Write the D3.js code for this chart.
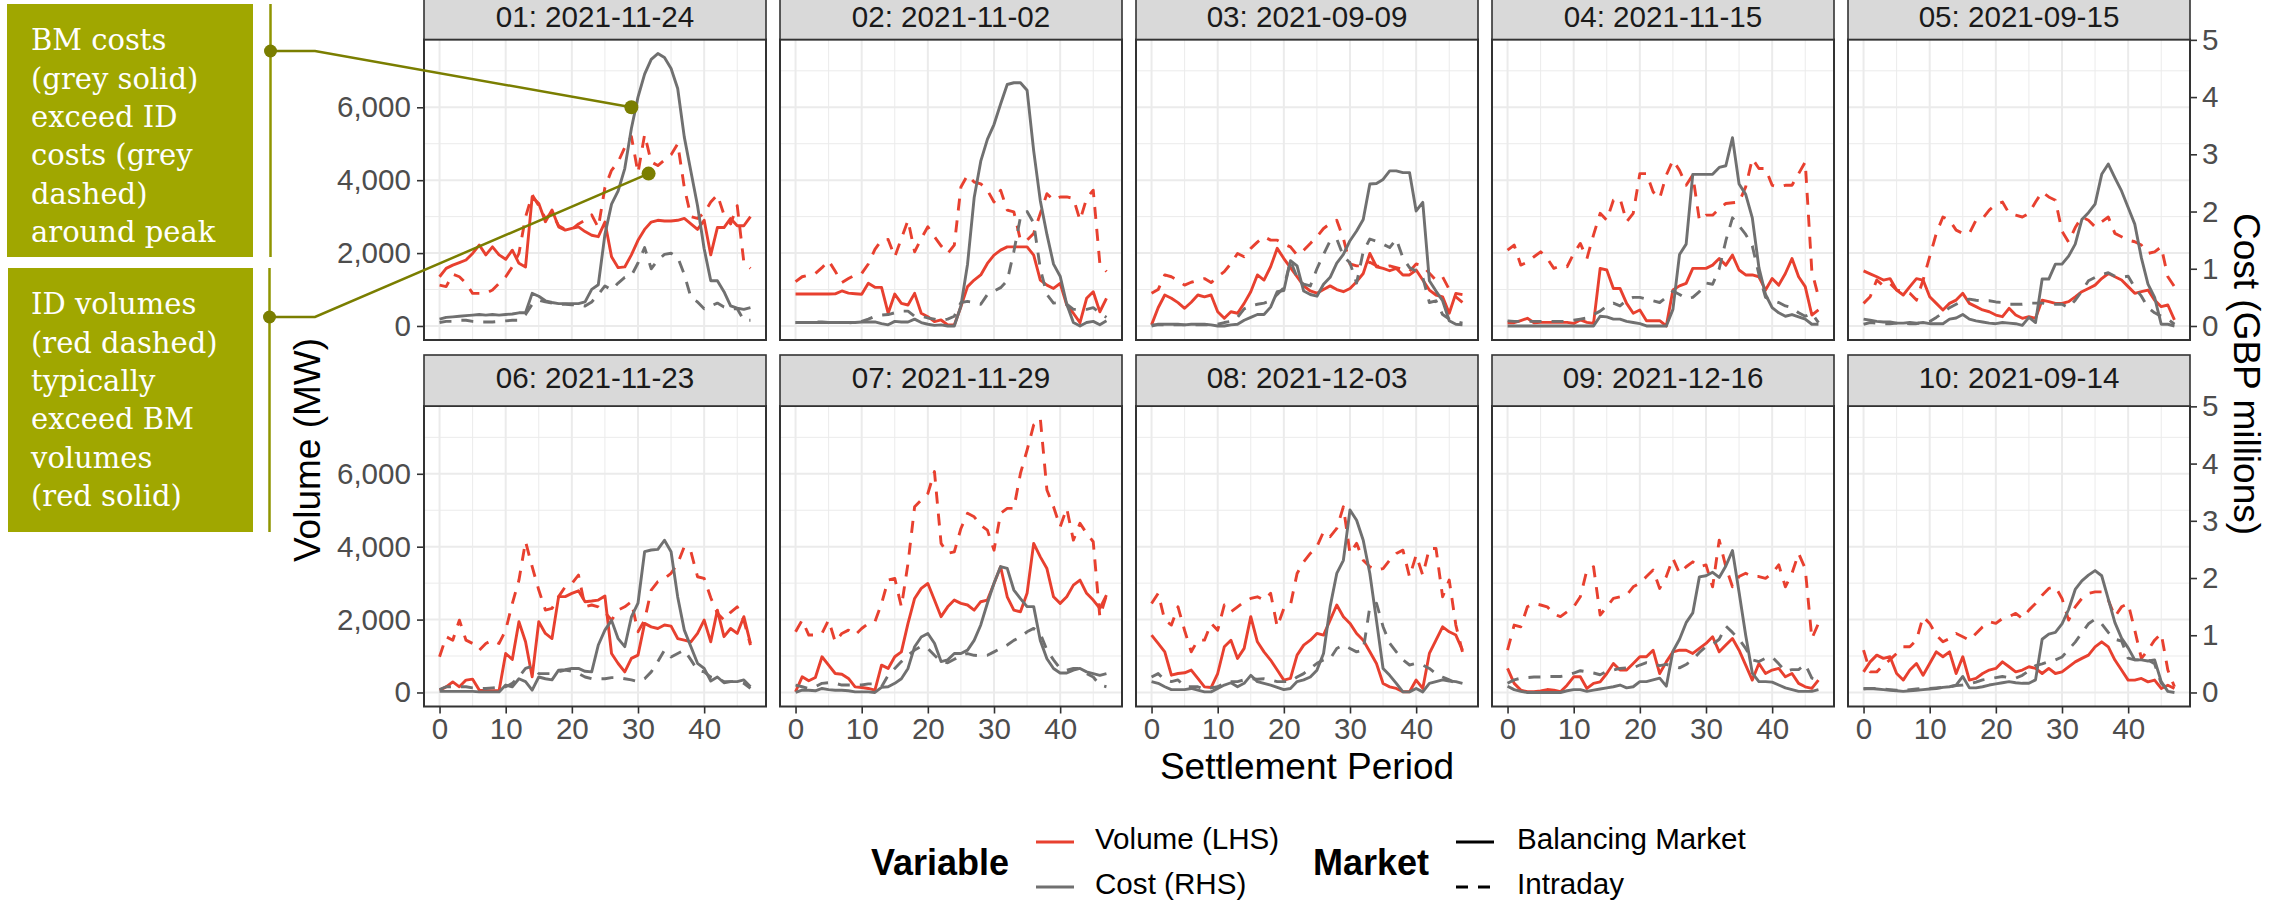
<!DOCTYPE html>
<html>
<head>
<meta charset="utf-8">
<script src="https://cdn.jsdelivr.net/npm/d3@7"></script>
<style>
  body { margin: 0; background: #fff; }
</style>
</head>
<body>
<div id="chart"></div>
<script>
// settlement periods shown on the x axis
const periods = [0,1,2,3,4,5,6,7,8,9,10,11,12,13,14,15,16,17,18,19,20,21,22,23,
                 24,25,26,27,28,29,30,31,32,33,34,35,36,37,38,39,40,41,42,43,44,45,46,47];

const panelLabels = ["01: 2021-11-24", "02: 2021-11-02", "03: 2021-09-09", "04: 2021-11-15", "05: 2021-09-15",
                     "06: 2021-11-23", "07: 2021-11-29", "08: 2021-12-03", "09: 2021-12-16", "10: 2021-09-14"];

// Balancing Market volume (MW)
const volBM = [
  [1350,1580,1670,1740,1810,1990,2220,1950,2170,1950,1830,2080,1720,1620,3540,3360,2860,3180,2720,2630,2680,2720,2590,2490,2450,2850,1900,1600,1620,1950,2350,2650,2850,2900,2880,2880,2900,2950,2800,2650,2900,1950,2700,2700,2950,2750,2750,3000],
  [876,876,876,876,876,876,880,960,900,885,870,1170,1060,1060,350,876,620,575,895,350,255,120,165,30,30,530,1080,1260,1400,1715,1945,2080,2170,2170,2170,2170,1945,1260,1120,1030,1170,575,350,90,760,940,390,760],
  [30,500,850,760,640,485,650,850,800,850,390,210,390,350,620,940,1400,1260,1625,2130,1850,1600,1350,1100,960,900,1000,1100,1000,940,1030,1215,1440,1990,1625,1580,1515,1580,1400,1400,1535,1260,985,850,800,350,895,860],
  [90,90,150,210,90,100,100,100,100,100,70,165,100,70,1580,1535,1030,1030,620,350,440,145,145,145,0,985,1100,1170,1580,1580,1580,1670,1850,1670,1945,1535,1400,1400,1350,985,1300,1120,1440,1850,1350,1080,300,440],
  [1510,1430,1350,1260,1300,985,850,1080,1300,1260,800,620,440,620,710,895,620,530,440,390,300,255,485,300,210,255,210,710,670,620,620,670,800,940,1030,1120,1300,1440,1350,1260,1080,895,940,985,710,530,575,165],
  [65,155,290,155,340,365,65,50,50,50,1070,905,1940,1390,430,1940,1620,1480,2630,2630,2720,2790,2490,2510,2535,2645,1070,795,565,935,1025,1895,1800,1755,1850,1820,1480,1435,1390,1620,1985,1390,2260,1530,1755,1620,2080,1345],
  [20,430,320,410,980,750,520,500,385,155,135,110,65,750,660,980,1115,1895,2580,2855,2990,2535,2080,2350,2535,2445,2400,2260,2490,2535,2990,3450,2625,2260,2215,2720,4090,3720,3400,2625,2445,2625,2945,3085,2720,2535,2305,2670],
  [1575,1345,1115,475,520,540,615,385,155,135,520,1255,1435,935,1210,2080,1390,1115,890,615,340,385,1025,1300,1435,1620,1575,1985,2400,2080,1895,1620,1435,1115,795,245,155,110,20,20,340,110,1070,1435,1800,1665,1575,1160],
  [660,250,65,20,20,45,80,65,20,200,430,430,110,250,290,520,795,615,615,795,980,980,1160,520,840,1115,1160,1160,1070,1210,1345,1530,1115,1300,1480,1160,750,340,795,520,615,660,430,520,250,155,110,340],
  [565,840,1025,935,980,520,340,615,795,475,795,1115,980,1115,520,980,340,385,520,615,660,840,705,565,615,705,660,520,660,520,565,705,840,935,1025,1250,1390,1250,890,615,340,340,385,290,340,110,200,110]
];

// Intraday volume (MW)
const volID = [
  [1120,1080,1420,1350,1170,895,895,895,985,1170,1350,1625,1990,2990,3600,3300,2950,3100,2750,2650,2650,2800,2900,3050,2700,3800,4270,4500,4900,5200,4200,5250,4500,4400,4550,4700,5000,3800,3000,2950,3100,3400,3600,3050,2800,3300,1750,1580],
  [1215,1350,1400,1440,1600,1790,1500,1190,1300,1400,1440,1700,2100,2355,2375,1900,2400,2900,2035,2400,2720,2450,2200,1990,2220,3815,4140,3950,3900,3725,3400,3725,3180,3130,2355,2355,2540,3090,3630,3450,3540,3540,3500,2900,3500,3725,1715,1490],
  [895,1000,1400,1350,1250,1120,1200,1250,1300,1190,1350,1490,1715,1990,1900,2130,2300,2450,2355,2355,2250,2170,1945,2080,2265,2450,2675,2810,2900,2400,1700,1650,1650,1750,1650,1600,1650,1600,1550,1500,1700,1650,1450,1250,1350,1000,800,650],
  [2080,2220,1670,1750,1900,2035,1850,1580,1650,1625,1990,2265,1850,2500,3090,2900,3450,3500,2860,3090,4180,4180,3680,3500,4140,4550,4270,3860,4140,2900,3040,3040,3220,3360,3380,3400,3815,4590,4320,4320,3860,3815,3860,3860,4180,4500,1500,800],
  [620,800,1260,1100,1170,985,950,895,710,1260,1900,2540,2990,2900,2630,2540,2540,2900,2950,3180,3340,3400,3090,3040,2990,3090,3400,3680,3540,3450,2600,2300,2700,2990,2900,2720,2860,2990,2540,2450,2355,2310,2220,1990,2035,2170,1350,1080],
  [980,1530,1435,1985,1435,1345,1160,1345,1435,1345,1710,2440,3080,4140,3450,2810,2260,2305,2630,2900,2990,3220,2350,2400,2350,2200,1985,2260,2350,2490,1665,1985,2810,3040,3130,3270,3540,4000,3860,3175,3130,2600,2170,1985,2200,2350,1985,1300],
  [1665,1985,1575,1575,1620,1985,1390,1620,1710,1575,1755,1895,1940,2440,3085,3130,2350,3540,5095,5280,5460,6060,4090,3815,3860,4500,4915,4820,4590,4455,3905,4915,5050,5050,6010,6650,7340,7520,5555,5095,4545,5050,4180,4640,4365,4135,2080,2670],
  [2440,2720,1985,1850,2350,1700,1115,1435,1435,1895,1710,2400,2215,2350,2490,2580,2625,2535,2720,1800,2305,2400,3265,3585,3815,4000,4410,4275,4500,5095,3815,4090,3630,3450,3360,3400,3630,3815,3905,3175,3770,3220,3950,3950,2625,3085,1850,1115],
  [1160,1850,1800,2350,2440,2400,2350,2150,2080,2215,2350,2625,3360,3450,2125,2350,2580,2625,2670,2900,3000,3180,3360,2855,3180,3680,3270,3450,3585,3450,3500,2900,4180,3450,2900,3180,3270,3180,3180,3130,3270,3500,2900,3270,3815,3400,1480,1895],
  [1160,565,565,750,900,1070,1255,1255,1435,2080,1895,1575,1390,1480,1620,1530,1435,1620,1800,1940,1895,2030,2080,2170,2030,2260,2440,2670,2855,2900,2580,1985,2350,2580,2720,2760,2760,2535,2080,2350,2440,1710,935,1160,1435,1620,615,155]
];

// Balancing Market cost (GBP millions)
const costBM = [
  [0.12,0.15,0.16,0.17,0.18,0.19,0.2,0.19,0.2,0.19,0.2,0.21,0.23,0.23,0.57,0.52,0.44,0.41,0.39,0.39,0.39,0.39,0.42,0.64,0.72,1.6,2.13,2.36,2.75,3.45,4.0,4.4,4.66,4.76,4.69,4.5,4.15,3.3,2.7,2.1,1.35,0.79,0.79,0.6,0.35,0.31,0.29,0.32],
  [0.06,0.06,0.06,0.06,0.06,0.06,0.06,0.06,0.06,0.06,0.07,0.07,0.07,0.04,0.02,0.08,0.07,0.07,0.12,0.06,0.03,0.01,0.02,0.0,0.0,0.35,1.08,2.24,2.88,3.26,3.52,3.88,4.22,4.25,4.25,4.12,3.06,2.19,1.6,1.08,0.87,0.38,0.06,0.0,0.06,0.08,0.02,0.09],
  [0.0,0.03,0.03,0.03,0.03,0.02,0.03,0.03,0.03,0.02,0.0,0.0,0.02,0.03,0.1,0.15,0.2,0.2,0.33,0.6,0.62,1.14,1.05,0.61,0.55,0.52,0.73,0.85,1.1,1.25,1.49,1.66,1.86,2.48,2.49,2.56,2.71,2.71,2.68,2.68,2.01,2.16,0.79,0.61,0.44,0.09,0.03,0.02],
  [0.0,0.0,0.0,0.0,0.0,0.0,0.0,0.0,0.0,0.0,0.0,0.0,0.0,0.0,0.17,0.16,0.12,0.12,0.08,0.06,0.04,0.0,0.0,0.0,0.0,0.29,1.25,1.43,2.65,2.65,2.65,2.65,2.77,2.8,3.29,2.48,2.3,1.89,1.02,0.55,0.32,0.23,0.17,0.2,0.16,0.12,0.03,0.03],
  [0.12,0.1,0.08,0.07,0.07,0.05,0.05,0.06,0.05,0.06,0.04,0.04,0.04,0.12,0.14,0.2,0.12,0.09,0.07,0.05,0.04,0.06,0.05,0.04,0.01,0.15,0.06,0.82,0.82,1.08,1.08,1.22,1.43,1.86,1.98,2.13,2.65,2.83,2.59,2.36,2.07,1.78,1.19,0.73,0.5,0.03,0.03,0.0],
  [0.02,0.02,0.02,0.02,0.02,0.02,0.01,0.01,0.01,0.01,0.13,0.1,0.24,0.19,0.04,0.27,0.24,0.22,0.39,0.4,0.42,0.42,0.37,0.36,0.83,1.09,1.26,0.94,0.8,1.32,1.56,2.46,2.49,2.5,2.66,2.46,1.67,1.09,0.8,0.51,0.42,0.2,0.27,0.17,0.19,0.19,0.22,0.1],
  [0.0,0.04,0.04,0.03,0.07,0.05,0.04,0.04,0.03,0.01,0.01,0.01,0.0,0.09,0.1,0.16,0.24,0.42,0.8,0.97,1.03,0.86,0.54,0.57,0.68,0.68,0.74,0.91,1.18,1.56,1.91,2.2,2.17,1.79,1.64,1.5,1.5,0.91,0.59,0.42,0.34,0.34,0.39,0.42,0.36,0.33,0.3,0.33],
  [0.19,0.16,0.1,0.05,0.05,0.05,0.07,0.04,0.01,0.01,0.07,0.13,0.17,0.1,0.16,0.3,0.19,0.16,0.13,0.09,0.05,0.07,0.19,0.22,0.27,0.39,0.68,1.5,2.08,2.31,3.19,3.01,2.66,2.08,1.26,0.42,0.3,0.16,0.01,0.01,0.07,0.01,0.16,0.19,0.22,0.2,0.19,0.16],
  [0.11,0.05,0.02,0.0,0.0,0.0,0.0,0.0,0.0,0.03,0.05,0.05,0.02,0.04,0.06,0.08,0.1,0.13,0.08,0.1,0.19,0.19,0.22,0.25,0.11,0.72,0.93,1.22,1.39,2.02,2.04,2.1,2.01,2.21,2.48,1.75,1.0,0.34,0.19,0.19,0.18,0.13,0.08,0.05,0.02,0.02,0.02,0.05],
  [0.06,0.07,0.06,0.05,0.04,0.03,0.02,0.03,0.04,0.05,0.06,0.07,0.09,0.1,0.13,0.28,0.08,0.08,0.1,0.13,0.15,0.17,0.19,0.17,0.16,0.16,0.22,0.93,1.02,1.05,1.2,1.45,1.8,1.95,2.05,2.13,2.04,1.63,1.22,0.95,0.78,0.57,0.57,0.55,0.57,0.19,0.02,0.0]
];

// Intraday cost (GBP millions)
const costID = [
  [0.06,0.08,0.08,0.1,0.1,0.08,0.07,0.07,0.07,0.08,0.09,0.1,0.1,0.2,0.38,0.45,0.42,0.4,0.38,0.38,0.37,0.37,0.35,0.42,0.55,0.7,0.63,0.75,0.85,0.88,1.1,1.37,1.0,1.15,1.25,1.27,1.2,0.9,0.5,0.42,0.3,0.35,0.4,0.33,0.3,0.3,0.1,0.1],
  [0.06,0.06,0.06,0.07,0.07,0.06,0.06,0.06,0.06,0.05,0.08,0.12,0.17,0.19,0.2,0.23,0.26,0.26,0.17,0.17,0.14,0.12,0.1,0.12,0.17,0.41,0.43,0.41,0.38,0.55,0.61,0.67,0.79,1.3,1.9,2.0,1.8,1.0,0.55,0.4,0.41,0.38,0.29,0.29,0.29,0.32,0.23,0.15],
  [0.02,0.02,0.02,0.02,0.02,0.02,0.02,0.02,0.02,0.02,0.03,0.06,0.08,0.15,0.3,0.35,0.38,0.4,0.44,0.55,0.67,1.14,0.85,0.73,0.7,1.0,1.25,1.49,1.52,1.22,1.1,0.75,1.3,1.52,1.48,1.43,1.37,1.52,1.19,1.02,0.96,0.85,0.41,0.44,0.2,0.12,0.08,0.05],
  [0.09,0.08,0.08,0.08,0.08,0.08,0.08,0.08,0.08,0.08,0.1,0.12,0.14,0.2,0.26,0.35,0.4,0.35,0.45,0.5,0.5,0.47,0.44,0.41,0.5,0.61,0.55,0.48,0.5,0.6,0.75,0.73,1.0,1.49,1.89,1.75,1.6,1.4,0.9,0.5,0.45,0.41,0.35,0.32,0.23,0.17,0.22,0.06],
  [0.03,0.06,0.05,0.04,0.04,0.05,0.05,0.04,0.04,0.06,0.08,0.15,0.23,0.32,0.38,0.44,0.47,0.45,0.44,0.44,0.42,0.41,0.38,0.38,0.38,0.4,0.4,0.4,0.38,0.38,0.38,0.32,0.45,0.61,0.79,0.85,0.9,0.93,0.87,0.85,0.87,0.67,0.52,0.32,0.23,0.17,0.12,0.03],
  [0.05,0.1,0.1,0.1,0.1,0.08,0.07,0.07,0.08,0.09,0.1,0.16,0.27,0.42,0.46,0.33,0.33,0.33,0.36,0.39,0.37,0.33,0.27,0.24,0.24,0.24,0.26,0.26,0.24,0.22,0.19,0.24,0.36,0.54,0.74,0.62,0.68,0.74,0.57,0.39,0.36,0.27,0.24,0.19,0.19,0.19,0.16,0.07],
  [0.13,0.1,0.07,0.1,0.16,0.17,0.16,0.13,0.13,0.13,0.13,0.15,0.15,0.1,0.3,0.42,0.54,0.65,0.74,0.81,0.77,0.65,0.54,0.52,0.58,0.65,0.68,0.65,0.64,0.65,0.71,0.77,0.83,0.91,0.97,1.06,1.12,1.03,0.74,0.57,0.42,0.39,0.42,0.42,0.33,0.27,0.13,0.1],
  [0.27,0.33,0.22,0.19,0.22,0.1,0.1,0.1,0.05,0.08,0.1,0.16,0.19,0.19,0.22,0.24,0.23,0.24,0.22,0.19,0.19,0.19,0.27,0.33,0.42,0.51,0.57,0.59,0.77,0.83,0.77,0.71,0.74,1.5,1.56,1.15,0.86,0.71,0.57,0.48,0.51,0.48,0.42,0.33,0.27,0.22,0.16,0.13],
  [0.16,0.22,0.25,0.26,0.27,0.27,0.28,0.28,0.28,0.3,0.34,0.38,0.36,0.34,0.31,0.37,0.39,0.42,0.43,0.43,0.48,0.52,0.5,0.47,0.49,0.46,0.43,0.49,0.57,0.7,0.8,0.84,0.93,1.16,1.05,0.93,0.77,0.57,0.54,0.6,0.62,0.5,0.37,0.4,0.4,0.49,0.25,0.22],
  [0.07,0.07,0.07,0.06,0.05,0.04,0.04,0.05,0.06,0.07,0.07,0.08,0.09,0.1,0.12,0.13,0.15,0.18,0.22,0.24,0.26,0.28,0.26,0.25,0.3,0.38,0.47,0.5,0.54,0.57,0.62,0.75,0.88,1.04,1.2,1.28,1.2,1.05,0.93,0.9,0.6,0.57,0.57,0.57,0.5,0.16,0.05,0.02]
];

const xTicks = [0, 10, 20, 30, 40];
const xMinor = [5, 15, 25, 35, 45];
const volTicks = [0, 2000, 4000, 6000];
const volMinor = [1000, 3000, 5000, 7000];
const costTicks = [0, 1, 2, 3, 4, 5];

const variables = ["Volume (LHS)", "Cost (RHS)"];
const markets = ["Balancing Market", "Intraday"];

const notes = [
  { lines: ["BM costs", "(grey solid)", "exceed ID", "costs (grey", "dashed)", "around peak"], target: [29, 6000] },
  { lines: ["ID volumes", "(red dashed)", "typically", "exceed BM", "volumes", "(red solid)"], target: [31.6, 4180] }
];

// ---- layout ----
const W = 2292, H = 900;
const sans = "'Liberation Sans', Arial, Helvetica, sans-serif";
const serif = "'DejaVu Serif', serif";
const red = "#e8402f", grey = "#707070";
const colLeft = 424, colStep = 356, panelW = 342;
const rowTop = [39.5, 406], panelH = 300.5, stripH = 51;
const costFactor = 1570;

const svg = d3.select("#chart").append("svg")
    .attr("width", W)
    .attr("height", H)
    .style("background", "#fff");

const xPad = 0.05 * (d3.max(periods) - d3.min(periods));
const x = d3.scaleLinear()
    .domain([d3.min(periods) - xPad, d3.max(periods) + xPad])
    .range([0, panelW]);

const volLimits = [-10, 7485];
const yPad = 0.05 * (volLimits[1] - volLimits[0]);
const yVol = d3.scaleLinear()
    .domain([volLimits[0] - yPad, volLimits[1] + yPad])
    .range([panelH, 0]);
const yCost = d3.scaleLinear()
    .domain(yVol.domain().map(d => d / costFactor))
    .range([panelH, 0]);

const colour = d3.scaleOrdinal().domain(variables).range([red, grey]);
const dash = d3.scaleOrdinal().domain(markets).range(["none", "12,10"]);

function styleAxis(g) {
    g.select(".domain").remove();
    g.selectAll(".tick line").attr("stroke", "#333").attr("stroke-width", 1.6);
    g.selectAll(".tick text")
        .attr("font-family", sans)
        .attr("font-size", "29.6px")
        .attr("fill", "#4d4d4d");
}

panelLabels.forEach((label, k) => {
    const c = k % 5, r = Math.floor(k / 5);
    const g = svg.append("g")
        .attr("transform", `translate(${colLeft + c * colStep},${rowTop[r]})`);

    g.append("rect").attr("width", panelW).attr("height", panelH).attr("fill", "#fff");

    // grid
    g.selectAll(".vminor").data(xMinor).enter().append("line")
        .attr("x1", d => x(d)).attr("x2", d => x(d))
        .attr("y1", 0).attr("y2", panelH)
        .attr("stroke", "#ebebeb").attr("stroke-width", 1);
    g.selectAll(".hminor").data(volMinor).enter().append("line")
        .attr("y1", d => yVol(d)).attr("y2", d => yVol(d))
        .attr("x1", 0).attr("x2", panelW)
        .attr("stroke", "#ebebeb").attr("stroke-width", 1);
    g.selectAll(".vmajor").data(xTicks).enter().append("line")
        .attr("x1", d => x(d)).attr("x2", d => x(d))
        .attr("y1", 0).attr("y2", panelH)
        .attr("stroke", "#ebebeb").attr("stroke-width", 2);
    g.selectAll(".hmajor").data(volTicks).enter().append("line")
        .attr("y1", d => yVol(d)).attr("y2", d => yVol(d))
        .attr("x1", 0).attr("x2", panelW)
        .attr("stroke", "#ebebeb").attr("stroke-width", 2);

    const series = [
        { v: volBM[k], scale: yVol, variable: variables[0], market: markets[0] },
        { v: volID[k], scale: yVol, variable: variables[0], market: markets[1] },
        { v: costBM[k], scale: yCost, variable: variables[1], market: markets[0] },
        { v: costID[k], scale: yCost, variable: variables[1], market: markets[1] }
    ];

    g.selectAll(".series").data(series).enter().append("path")
        .attr("fill", "none")
        .attr("stroke", d => colour(d.variable))
        .attr("stroke-dasharray", d => dash(d.market))
        .attr("stroke-width", 2.9)
        .attr("stroke-linejoin", "round")
        .attr("d", d => d3.line()
            .x((v, i) => x(periods[i]))
            .y(v => d.scale(v))(d.v));

    // border
    g.append("rect").attr("width", panelW).attr("height", panelH)
        .attr("fill", "none").attr("stroke", "#333").attr("stroke-width", 2);

    // strip (top row is cropped by the picture edge, so its label sits a bit lower)
    g.append("rect").attr("y", -stripH).attr("width", panelW).attr("height", stripH)
        .attr("fill", "#d9d9d9").attr("stroke", "#333").attr("stroke-width", 1.6);
    g.append("text")
        .attr("x", panelW / 2).attr("y", -stripH + (r === 0 ? 38.5 : 33))
        .attr("text-anchor", "middle")
        .attr("font-family", sans).attr("font-size", "29.6px").attr("fill", "#1a1a1a")
        .text(label);

    if (c === 0) {
        g.append("g")
            .call(d3.axisLeft(yVol).tickValues(volTicks).tickFormat(d3.format(",")).tickSize(7).tickPadding(6))
            .call(styleAxis);
    }
    if (c === 4) {
        g.append("g").attr("transform", `translate(${panelW},0)`)
            .call(d3.axisRight(yCost).tickValues(costTicks).tickFormat(d3.format("d")).tickSize(7).tickPadding(5))
            .call(styleAxis);
    }
    if (r === 1) {
        g.append("g").attr("transform", `translate(0,${panelH})`)
            .call(d3.axisBottom(x).tickValues(xTicks).tickSize(7).tickPadding(4.5))
            .call(styleAxis);
    }
});

// axis titles
svg.append("text")
    .attr("transform", "translate(320,450) rotate(-90)")
    .attr("text-anchor", "middle")
    .attr("font-family", sans).attr("font-size", "37px").attr("fill", "#000")
    .text("Volume (MW)");
svg.append("text")
    .attr("transform", "translate(2234,374) rotate(90)")
    .attr("text-anchor", "middle")
    .attr("font-family", sans).attr("font-size", "37px").attr("fill", "#000")
    .text("Cost (GBP millions)");
svg.append("text")
    .attr("x", colLeft + (4 * colStep + panelW) / 2).attr("y", 779)
    .attr("text-anchor", "middle")
    .attr("font-family", sans).attr("font-size", "37px").attr("fill", "#000")
    .text("Settlement Period");

// legend
const legendRows = [842, 887];
const lg = svg.append("g");
lg.append("text").attr("x", 871).attr("y", 875)
    .attr("font-family", sans).attr("font-size", "36px").attr("font-weight", "bold")
    .text("Variable");
lg.selectAll(".vkey").data(variables).enter().append("line")
    .attr("x1", 1036).attr("x2", 1074)
    .attr("y1", (d, i) => legendRows[i]).attr("y2", (d, i) => legendRows[i])
    .attr("stroke", d => colour(d)).attr("stroke-width", 2.9);
lg.selectAll(".vlab").data(variables).enter().append("text")
    .attr("x", 1095).attr("y", (d, i) => legendRows[i] + 7)
    .attr("font-family", sans).attr("font-size", "29.6px")
    .text(d => d);

lg.append("text").attr("x", 1313).attr("y", 875)
    .attr("font-family", sans).attr("font-size", "36px").attr("font-weight", "bold")
    .text("Market");
lg.selectAll(".mkey").data(markets).enter().append("line")
    .attr("x1", 1456).attr("x2", 1494)
    .attr("y1", (d, i) => legendRows[i]).attr("y2", (d, i) => legendRows[i])
    .attr("stroke", "#000").attr("stroke-width", 2.9)
    .attr("stroke-dasharray", d => dash(d));
lg.selectAll(".mlab").data(markets).enter().append("text")
    .attr("x", 1517).attr("y", (d, i) => legendRows[i] + 7)
    .attr("font-family", sans).attr("font-size", "29.6px")
    .text(d => d);

// annotation boxes
const boxes = [
    { x: 7, y: 4, w: 246, h: 253, bx: 270.5, dotY: 51 },
    { x: 8, y: 268, w: 245, h: 264, bx: 269.5, dotY: 317 }
];
const olive = "#a0a700", oliveDark = "#7a7e00";

notes.forEach((n, i) => {
    const b = boxes[i];
    const ag = svg.append("g");
    ag.append("rect").attr("x", b.x).attr("y", b.y).attr("width", b.w).attr("height", b.h)
        .attr("fill", olive);
    ag.selectAll("text").data(n.lines).enter().append("text")
        .attr("x", 31).attr("y", (d, j) => b.y + 46.3 + j * 38.3)
        .attr("font-family", serif).attr("font-size", "29px").attr("fill", "#fff")
        .text(d => d);
    ag.append("line").attr("x1", b.bx).attr("x2", b.bx).attr("y1", b.y).attr("y2", b.y + b.h)
        .attr("stroke", "#8f9500").attr("stroke-width", 2.5);

    const tx = colLeft + x(n.target[0]);
    const ty = rowTop[0] + yVol(n.target[1]);
    ag.append("path")
        .attr("d", d3.line()([[b.bx, b.dotY], [315, b.dotY], [tx, ty]]))
        .attr("fill", "none").attr("stroke", oliveDark).attr("stroke-width", 2.5);
    ag.append("circle").attr("cx", b.bx).attr("cy", b.dotY).attr("r", 6.5).attr("fill", oliveDark);
    ag.append("circle").attr("cx", tx).attr("cy", ty).attr("r", 7).attr("fill", oliveDark);
});
</script>
</body>
</html>
